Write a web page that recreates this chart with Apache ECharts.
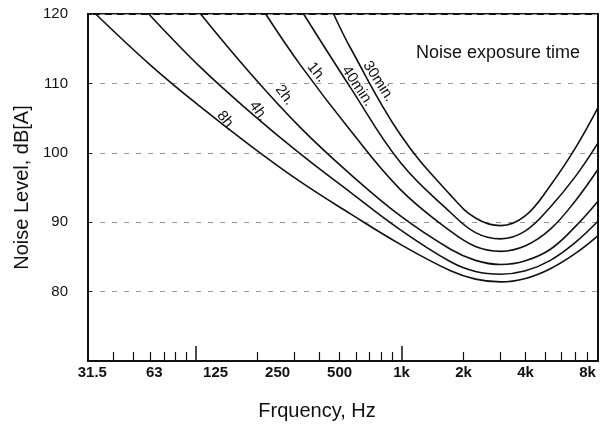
<!DOCTYPE html>
<html>
<head>
<meta charset="utf-8">
<title>Noise exposure time</title>
<script src="https://cdn.jsdelivr.net/npm/echarts@6/dist/echarts.min.js"></script>
<style>
    html, body { margin: 0; padding: 0; background: #fff; }
    #main { width: 602px; height: 429px; }
</style>
</head>
<body>
<div id="main"></div>
<script>
// frequency (Hz) / level (dB[A]) pairs
var curve8h = [[32.7, 120], [60.5, 112.6], [105.7, 106.6], [185, 101.0], [323.6, 95.8], [565, 91.2], [988, 86.8], [1730, 83.0], [2287, 81.8], [3027, 81.4], [4000, 81.9], [5285, 83.3], [6995, 85.5], [9040, 88.1]];
var curve4h = [[59.2, 120], [105.7, 112.3], [185, 105.8], [323.6, 99.8], [565, 94.3], [988, 88.9], [1730, 84.3], [2287, 82.9], [3027, 82.5], [4000, 83.0], [5285, 84.5], [6995, 87.1], [9040, 90.2]];
var curve2h = [[105.7, 120], [185, 111.4], [323.6, 103.6], [565, 96.9], [988, 90.9], [1730, 86.1], [2287, 84.5], [3027, 83.9], [4000, 84.45], [5285, 86.1], [6995, 89.4], [9040, 93.1]];
var curve1h = [[218.8, 120], [323.6, 112.6], [565, 103.2], [988, 94.7], [1730, 88.7], [2287, 86.5], [3027, 85.8], [4000, 86.6], [5285, 89.0], [6995, 93.1], [9040, 97.7]];
var curve40m = [[334.5, 120], [565, 109.4], [988, 98.6], [1730, 91.4], [2287, 88.5], [3027, 87.6], [4000, 88.75], [5285, 92.2], [6995, 96.6], [9040, 101.5]];
var curve30m = [[467.7, 120], [565, 115.1], [988, 102.6], [1730, 93.9], [2287, 90.6], [3027, 89.5], [4000, 90.95], [5285, 95.3], [6995, 100.7], [9040, 106.6]];

var curveNames = ['8h.', '4h.', '2h.', '1h.', '40min.', '30min.'];
var curves = [curve8h, curve4h, curve2h, curve1h, curve40m, curve30m];
// where each curve's name sits, [Hz, dB]
var labelAt = [[141, 104.6], [202, 106.0], [270, 108.3], [387, 111.6], [611, 109.6], [773, 110.3]];
var labelTilt = [-51, -54, -53, -51, -56, -57];

var octaveTicks = [31.5, 63, 125, 250, 500, 1000, 2000, 4000, 8000];
var octaveText = ['31.5', '63', '125', '250', '500', '1k', '2k', '4k', '8k'];
var minorTicks = [40, 50, 60, 70, 80, 90, 200, 300, 400, 500, 600, 700, 800, 900, 2000, 3000, 4000, 5000, 6000, 7000, 8000];
var decadeTicks = [100, 1000];
var levelTicks = [80, 90, 100, 110, 120];

var font = '"Liberation Sans", Arial, sans-serif';

var series = [];
for (var i = 0; i < curves.length; i++) {
    series.push({
        name: curveNames[i],
        type: 'line',
        data: curves[i],
        smooth: 0.4,
        symbol: 'none',
        clip: true,
        lineStyle: { color: '#111', width: 1.6 },
        markPoint: {
            symbol: 'circle',
            symbolSize: 0,
            silent: true,
            data: [{ coord: labelAt[i] }],
            label: {
                show: true,
                position: 'inside',
                formatter: curveNames[i],
                rotate: labelTilt[i],
                color: '#111',
                fontFamily: font,
                fontSize: 15
            }
        }
    });
}

var option = {
    backgroundColor: '#fff',
    animation: false,
    title: {
        text: 'Noise exposure time',
        right: 17,
        top: 39,
        textStyle: { fontFamily: font, fontSize: 18, fontWeight: 'normal', color: '#111' }
    },
    grid: {
        left: 88, right: 4, top: 14, bottom: 68,
        show: true,
        borderColor: '#111',
        borderWidth: 2
    },
    xAxis: [{
        type: 'log',
        logBase: 10,
        min: 30,
        max: 9000,
        name: 'Frquency, Hz',
        nameLocation: 'middle',
        nameGap: 40,
        nameTextStyle: { fontFamily: font, fontSize: 20, color: '#111', padding: [0, 52, 0, 0] },
        axisLine: { show: true, lineStyle: { color: '#111', width: 2 } },
        axisTick: { show: true, inside: true, length: 9, customValues: minorTicks, lineStyle: { color: '#111', width: 1.2 } },
        axisLabel: {
            customValues: octaveTicks,
            margin: 4,
            fontFamily: font,
            fontSize: 15,
            fontWeight: 'bold',
            color: '#111',
            formatter: function (v) {
                var k = octaveTicks.indexOf(v);
                return k >= 0 ? octaveText[k] : '';
            }
        },
        splitLine: { show: false },
        minorTick: { show: false }
    }, {
        type: 'log',
        logBase: 10,
        min: 30,
        max: 9000,
        position: 'bottom',
        axisLine: { show: false },
        axisTick: { show: true, inside: true, length: 15, customValues: decadeTicks, lineStyle: { color: '#111', width: 1.5 } },
        axisLabel: { show: false },
        splitLine: { show: false }
    }],
    yAxis: {
        type: 'value',
        min: 70,
        max: 120,
        interval: 10,
        name: 'Noise Level, dB[A]',
        nameLocation: 'middle',
        nameGap: 52,
        nameTextStyle: { fontFamily: font, fontSize: 20, color: '#111' },
        axisLine: { show: true, lineStyle: { color: '#111', width: 2 } },
        axisTick: { show: true, inside: true, length: 4, lineStyle: { color: '#111' } },
        axisLabel: {
            margin: 20,
            fontFamily: font,
            fontSize: 15,
            color: '#111',
            showMinLabel: false,
            formatter: function (v) {
                return levelTicks.indexOf(v) >= 0 ? String(v) : '';
            }
        },
        splitLine: { show: true, lineStyle: { color: '#999', width: 1, type: [5, 7] } }
    },
    series: series
};

var chart = echarts.init(document.getElementById('main'), null, { renderer: 'canvas' });
chart.setOption(option);
</script>
</body>
</html>
